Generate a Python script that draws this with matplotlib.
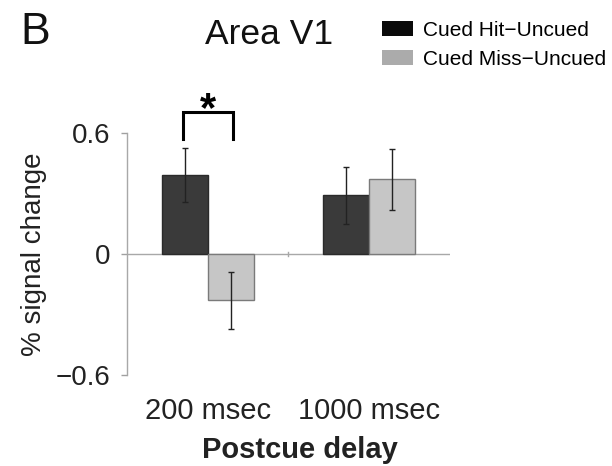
import matplotlib
matplotlib.use('agg')
import matplotlib.pyplot as plt
from matplotlib.patches import Patch
import numpy as np

plt.rcParams['font.family'] = ['Liberation Sans', 'DejaVu Sans']

# data
categories = ['200 msec', '1000 msec']
series_names = ['Cued Hit\u2212Uncued', 'Cued Miss\u2212Uncued']
hit_vals = [0.39, 0.29]
hit_err = [0.135, 0.14]
miss_vals = [-0.23, 0.37]
miss_err = [0.14, 0.15]
yticks = [-0.6, 0, 0.6]
ytick_labels = ['\u22120.6', '0', '0.6']

bar_colors = ['#3a3a3a', '#c6c6c6']
edge_colors = ['#2a2a2a', '#7a7a7a']
legend_colors = ['#0a0a0a', '#ababab']

fig = plt.figure(figsize=(6.12, 4.66), dpi=100)
ax = fig.add_axes([0.2075, 0.195, 0.5275, 0.52])

x = np.arange(len(categories))
w = 0.285
ax.bar(x - w/2, hit_vals, w, color=bar_colors[0], edgecolor=edge_colors[0], linewidth=1, zorder=2)
ax.bar(x + w/2, miss_vals, w, color=bar_colors[1], edgecolor=edge_colors[1], linewidth=1, zorder=2)
ax.errorbar(x - w/2, hit_vals, yerr=hit_err, fmt='none', ecolor='#222222', elinewidth=1, capsize=2, zorder=3)
ax.errorbar(x + w/2, miss_vals, yerr=miss_err, fmt='none', ecolor='#222222', elinewidth=1, capsize=2, zorder=3)

# zero line with a little tick between the groups
ax.axhline(0, color='#a8a8a8', lw=1, zorder=1)
ax.plot([0.5, 0.5], [-0.008, 0.008], color='#a8a8a8', lw=1, zorder=1)

ax.set_xlim(-0.5, 1.5)
ax.set_ylim(-0.6, 0.6)
ax.set_xticks([])
ax.set_yticks(yticks)
ax.set_yticklabels(ytick_labels, fontsize=20, color='#222222')
ax.tick_params(axis='y', length=4, width=1, color='#a0a0a0', pad=8)
for s in ['top', 'right', 'bottom']:
    ax.spines[s].set_visible(False)
ax.spines['left'].set_color('#a8a8a8')
ax.spines['left'].set_linewidth(1)
ax.set_ylabel('% signal change', fontsize=20, color='#222222', labelpad=6)

for xi, lab in zip(x, categories):
    ax.text(xi, -0.78, lab, ha='center', va='center', fontsize=21, color='#222222', clip_on=False)
fig.text(300/612, 1 - 450/466, 'Postcue delay', ha='center', va='center', fontsize=21,
         fontweight='bold', color='#222222')

# significance bracket
bx = [-0.155, -0.155, 0.155, 0.155]
by = [0.57, 0.704, 0.704, 0.57]
ax.plot(bx, by, color='black', lw=2.2, clip_on=False, solid_joinstyle='miter')
ax.text(0, 0.66, '*', ha='center', va='baseline', fontsize=30, fontweight='bold', clip_on=False)

fig.text(20/612, 1 - 33/466, 'B', ha='left', va='center', fontsize=32, color='#111111')
fig.text(269/612, 1 - 35/466, 'Area V1', ha='center', va='center', fontsize=25.5, color='#111111')

handles = [Patch(facecolor=c, edgecolor='none') for c in legend_colors]
fig.legend(handles, series_names, loc='upper left', bbox_to_anchor=(382/612, 1 - 21/466),
           frameon=False, fontsize=15, handlelength=1.5, handleheight=0.72,
           handletextpad=0.45, labelspacing=0.46, borderpad=0, borderaxespad=0)

fig.savefig('out.png', dpi=100)
